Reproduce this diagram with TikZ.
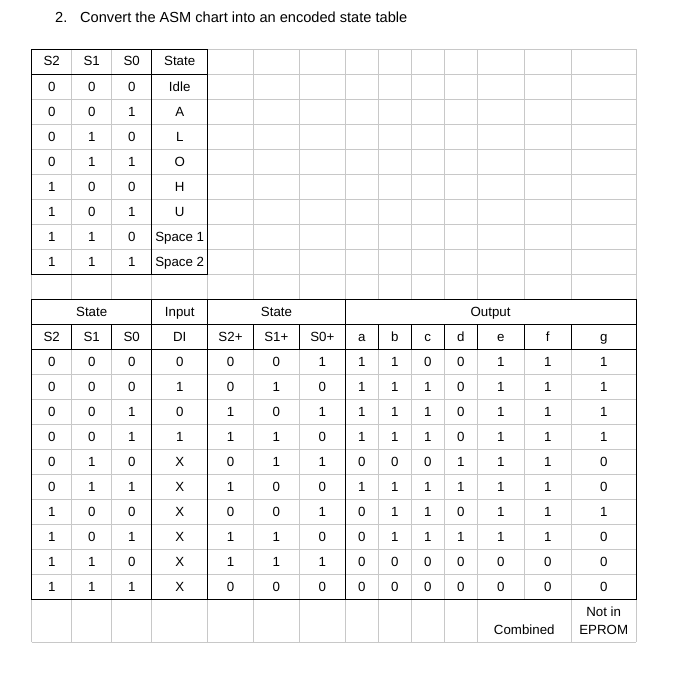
\documentclass[tikz,border=0pt]{standalone}
\usepackage{fontspec}
\setmainfont{Liberation Sans}
\definecolor{gridgray}{RGB}{200,200,200}
\begin{document}
\begin{tikzpicture}[x=1pt,y=-1pt,
  gridline/.style={draw=gridgray,line width=1pt},
  boldline/.style={draw=black,line width=1pt},
  cell/.style={anchor=base,inner sep=0pt,font=\fontsize{13.3}{15}\selectfont,text=black},
  titletext/.style={anchor=base west,inner sep=0pt,font=\fontsize{14.6}{17}\selectfont,text=black}]
\useasboundingbox (0,0) rectangle (677,677);
\fill[white] (0,0) rectangle (677,677);
% ---------- gray grid ----------
% horizontal lines
\foreach \k in {0,...,22} \draw[gridline] (31.7,{49.3+25*\k}) -- (636,{49.3+25*\k});
\draw[gridline] (31.7,642.3) -- (636,642.3);
% vertical lines, upper part (rows 0..10)
\foreach \x in {31.7,71.7,111.7,151.7,207.7,253.3,299.3,345.3,378.3,411.3,444.3,477.3,524.3,571.3,636}
  \draw[gridline] (\x,49.3) -- (\x,299.3);
% vertical lines below the merged header row
\foreach \x in {31.7,71.7,111.7,151.7,207.7,253.3,299.3,345.3,378.3,411.3,444.3,477.3,571.3,636}
  \draw[gridline] (\x,324.3) -- (\x,642.3);
\draw[gridline] (524.3,324.3) -- (524.3,599.3);
\foreach \x in {31.7,151.7,207.7,345.3,636}
  \draw[gridline] (\x,299.3) -- (\x,324.3);
% ---------- black borders: table 1 ----------
\draw[boldline] (31.7,49.3) rectangle (207.7,274.3);
\draw[boldline] (151.7,49.3) -- (151.7,274.3);
\draw[boldline] (31.7,74.3) -- (207.7,74.3);
% ---------- black borders: table 2 ----------
\draw[boldline] (31.7,299.3) rectangle (636,599.3);
\foreach \x in {151.7,207.7,345.3} \draw[boldline] (\x,299.3) -- (\x,599.3);
\foreach \x in {71.7,111.7,253.3,299.3,378.3,411.3,444.3,477.3,524.3,571.3}
  \draw[boldline] (\x,324.3) -- (\x,349.3);
\draw[boldline] (31.7,324.3) -- (636,324.3);
\draw[boldline] (31.7,349.3) -- (636,349.3);
% ---------- title ----------
\node[titletext] (num) at (55,22.7) {2.};
\node[titletext] (title) at (80,22.7) {Convert the ASM chart into an encoded state table};
% ---------- table 1 ----------
\node[cell] (h1a) at (51.7,66) {S2};
\node[cell] (h1b) at (91.7,66) {S1};
\node[cell] (h1c) at (131.7,66) {S0};
\node[cell] (h1d) at (179.7,66) {State};
\foreach \a/\b/\c/\s [count=\r] in {0/0/0/Idle,0/0/1/A,0/1/0/L,0/1/1/O,1/0/0/H,1/0/1/U,1/1/0/Space 1,1/1/1/Space 2}{
  \node[cell] (ta-\r-1) at (51.7,{49.3+25*\r+16.7}) {\a};
  \node[cell] (ta-\r-2) at (91.7,{49.3+25*\r+16.7}) {\b};
  \node[cell] (ta-\r-3) at (131.7,{49.3+25*\r+16.7}) {\c};
  \node[cell] (ta-\r-4) at (179.7,{49.3+25*\r+16.7}) {\s};
}
% ---------- table 2 ----------
\node[cell] (g1) at (91.7,316) {State};
\node[cell] (g2) at (179.7,316) {Input};
\node[cell] (g3) at (276.5,316) {State};
\node[cell] (g4) at (490.6,316) {Output};
\foreach \t/\xc [count=\c] in {S2/51.7,S1/91.7,S0/131.7,DI/179.7,S2+/230.5,S1+/276.3,S0+/322.3,a/361.8,b/394.8,c/427.8,d/460.8,e/500.8,f/547.8,g/603.7}
  \node[cell] (hh-\c) at (\xc,341) {\t};
\foreach \row [count=\r] in {
  {0,0,0,0,0,0,1,1,1,0,0,1,1,1},
  {0,0,0,1,0,1,0,1,1,1,0,1,1,1},
  {0,0,1,0,1,0,1,1,1,1,0,1,1,1},
  {0,0,1,1,1,1,0,1,1,1,0,1,1,1},
  {0,1,0,X,0,1,1,0,0,0,1,1,1,0},
  {0,1,1,X,1,0,0,1,1,1,1,1,1,0},
  {1,0,0,X,0,0,1,0,1,1,0,1,1,1},
  {1,0,1,X,1,1,0,0,1,1,1,1,1,0},
  {1,1,0,X,1,1,1,0,0,0,0,0,0,0},
  {1,1,1,X,0,0,0,0,0,0,0,0,0,0}}{
  \foreach \v/\xc [count=\c] in \row {
    \pgfmathsetmacro{\xx}{{51.7,91.7,131.7,179.7,230.5,276.3,322.3,361.8,394.8,427.8,460.8,500.8,547.8,603.7}[\c-1]}
    \node[cell] (tb-\r-\c) at (\xx,{324.3+25*\r+16.7}) {\v};
  }
}
% bottom row
\node[cell] (comb) at (524.3,634.3) {Combined};
\node[cell] (notin) at (603.7,616.7) {Not in};
\node[cell] (eprom) at (603.7,634.3) {EPROM};
\end{tikzpicture}
\end{document}
